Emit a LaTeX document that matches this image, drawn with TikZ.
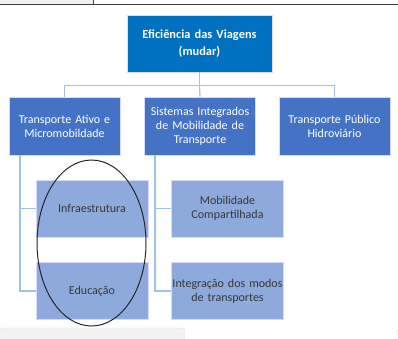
\documentclass[tikz,border=0pt]{standalone}
\usepackage{fontspec}
\setmainfont{Carlito}
\usetikzlibrary{shapes.geometric}
\definecolor{topblue}{HTML}{0070C0}
\definecolor{midblue}{HTML}{4472C4}
\definecolor{lowblue}{HTML}{8EA9DB}
\definecolor{linea}{HTML}{A9BDE6}
\definecolor{lineb}{HTML}{9DC3E6}
\begin{document}
\begin{tikzpicture}[x={(1pt,0)},y={(0,-1pt)},
  boxbase/.style={draw=white!85!blue,line width=0.6pt,align=center,inner sep=0pt,text width=#1},
  topbox/.style={boxbase=145pt,fill=topblue,text=white,font=\fontsize{12.4}{16.5}\selectfont\bfseries,minimum width=145pt,minimum height=57pt},
  midbox/.style={boxbase=111pt,fill=midblue,text=white,font=\fontsize{12}{13.8}\selectfont,minimum width=111pt,minimum height=58pt},
  lowbox/.style={boxbase=112pt,fill=lowblue,text=black!78,font=\fontsize{12}{13.8}\selectfont,minimum width=112pt,minimum height=57pt},
  conna/.style={draw=linea,line width=1.2pt},
  connb/.style={draw=lineb,line width=1.2pt}]
\useasboundingbox (0,0) rectangle (398,338);
% top frame remnants
\fill[black!6] (0,0) rectangle (93.5,4);
\draw[black!75,line width=0.9pt] (0,4) -- (398,4);
\draw[black!75,line width=0.9pt] (93.5,0) -- (93.5,4);
% bottom remnants
\draw[black!12,fill=black!5,rounded corners=3pt] (-2,328) rectangle (185,345);
\draw[black!12,rounded corners=3pt] (396,345) -- (396,331) -- (400,328);
% nodes
\node[topbox] (top) at (199.5,43.5) {Eficiência das Viagens\\(mudar)};
\node[midbox] (m1) at (64.5,126) {Transporte Ativo e\\Micromobildade};
\node[midbox] (m2) at (200,126) {Sistemas Integrados\\de Mobilidade de\\Transporte};
\node[midbox] (m3) at (334.5,126) {Transporte Público\\Hidroviário};
\node[lowbox] (l1) at (92,208.5) {Infraestrutura};
\node[lowbox] (l2) at (92,291) {Educação};
\node[lowbox] (l3) at (227.5,208.5) {Mobilidade\\Compartilhada};
\node[lowbox] (l4) at (227.5,291) {Integração dos modos\\de transportes};
% connectors
\coordinate (hj) at (199.5,85.5);
\draw[conna] (top.south) -- (hj);
\draw[conna] (m1.north) |- (hj);
\draw[conna] (m3.north) |- (hj);
\draw[conna] (hj) -- (m2.north);
\draw[connb] ([xshift=-44.5pt]m1.south) |- (l1.west);
\draw[connb] ([xshift=-44.5pt]m1.south) |- (l2.west);
\draw[connb] ([xshift=-45pt]m2.south) |- (l3.west);
\draw[connb] ([xshift=-45pt]m2.south) |- (l4.west);
% ellipse
\node[draw=black!85,line width=1pt,ellipse,minimum width=109pt,minimum height=166pt,inner sep=0pt] (ell) at (91.5,243) {};
\end{tikzpicture}
\end{document}
